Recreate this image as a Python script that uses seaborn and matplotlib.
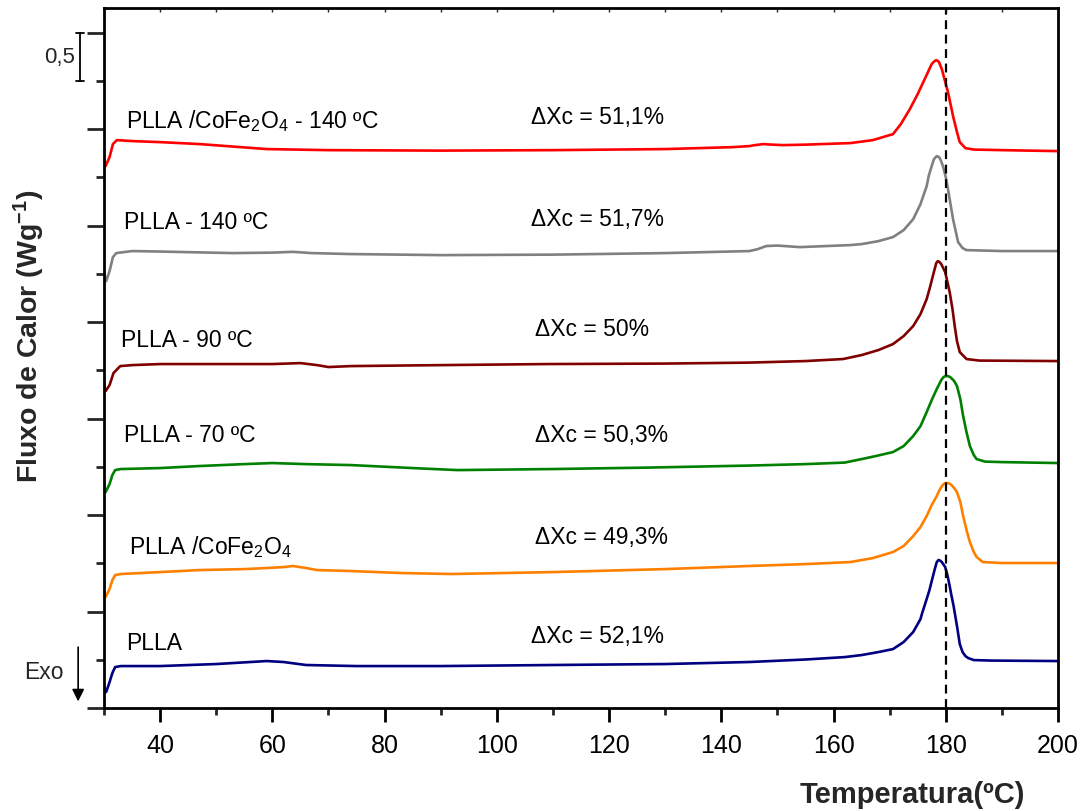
import numpy as np
import pandas as pd
import matplotlib
matplotlib.use("Agg")
import matplotlib.pyplot as plt
import seaborn as sns

# ---------------- data (heat flow, W/g offset units) ----------------
x_plla = [30, 30.4, 31, 31.5, 32, 33, 40, 50, 59, 62, 66, 75, 90, 110, 130, 145, 155, 162, 165, 168,
          170.6, 172.5, 174.2, 175.5, 175.8, 176.6, 177.1, 177.5, 178.0, 178.4, 178.7, 179.0, 179.3,
          179.9, 180.3, 180.7, 181.0, 181.4, 182, 182.5, 183, 183.5, 184, 185, 188, 200]
y_plla = [0.218, 0.166, 0.269, 0.363, 0.425, 0.435, 0.435, 0.456, 0.487, 0.477, 0.446, 0.435, 0.435,
          0.446, 0.456, 0.477, 0.503, 0.528, 0.549, 0.580, 0.611, 0.684, 0.788, 0.922, 0.984, 1.130,
          1.223, 1.316, 1.430, 1.513, 1.534, 1.528, 1.513, 1.461, 1.378, 1.264, 1.171, 1.057, 0.850,
          0.663, 0.580, 0.539, 0.518, 0.497, 0.492, 0.487]

x_plla_cofe = [30, 30.3, 31, 31.5, 32, 33, 40, 47, 55, 59, 62, 63.7, 66, 68, 74, 83, 92, 110, 130, 145,
               155, 163, 167, 170.6, 172.5, 174.2, 175.5, 176.6, 177.5, 178.4, 178.8, 179.2, 179.6, 180,
               180.4, 180.8, 181.1, 181.5, 182, 182.6, 183.1, 183.7, 184.3, 185, 185.5, 186.6, 190, 200]
y_plla_cofe = [1.202, 1.150, 1.233, 1.326, 1.378, 1.389, 1.409, 1.430, 1.440, 1.451, 1.461, 1.472, 1.451,
               1.430, 1.420, 1.399, 1.389, 1.409, 1.440, 1.472, 1.492, 1.513, 1.554, 1.617, 1.679, 1.782,
               1.876, 1.990, 2.104, 2.197, 2.249, 2.290, 2.321, 2.332, 2.332, 2.321, 2.306, 2.280, 2.238,
               2.135, 1.990, 1.845, 1.720, 1.617, 1.565, 1.513, 1.503, 1.503]

x_plla70 = [30, 30.3, 31, 31.5, 32, 33, 40, 47, 55, 60, 66, 74, 85, 93, 110, 127, 145, 155, 162, 165,
            167.5, 170.6, 172.5, 174.2, 175.5, 176.6, 177.5, 178.4, 179.2, 179.6, 180, 180.4, 180.8,
            181.5, 182, 182.6, 183.1, 183.7, 184.3, 185, 185.5, 187, 190, 200]
y_plla70 = [2.301, 2.238, 2.321, 2.415, 2.466, 2.477, 2.487, 2.508, 2.528, 2.539, 2.528, 2.518, 2.487,
            2.466, 2.477, 2.492, 2.513, 2.528, 2.544, 2.580, 2.611, 2.653, 2.715, 2.819, 2.922, 3.067,
            3.192, 3.306, 3.399, 3.430, 3.440, 3.440, 3.430, 3.389, 3.337, 3.202, 3.026, 2.860, 2.715,
            2.622, 2.580, 2.554, 2.549, 2.539]

x_plla90 = [30, 30.3, 31, 31.7, 32.9, 35, 40, 50, 60, 65, 68, 70, 74, 90, 109, 130, 145, 155, 161.7,
            165, 168, 170.6, 172.5, 174.2, 175.5, 176.6, 177.2, 177.7, 178.3, 178.6, 178.9, 179.2,
            179.9, 180.7, 181.2, 181.6, 182, 182.5, 183.7, 186, 200]
y_plla90 = [3.358, 3.285, 3.347, 3.472, 3.544, 3.554, 3.565, 3.565, 3.565, 3.575, 3.554, 3.534, 3.544,
            3.554, 3.565, 3.570, 3.580, 3.596, 3.617, 3.658, 3.710, 3.772, 3.855, 3.959, 4.083, 4.238,
            4.363, 4.477, 4.611, 4.632, 4.622, 4.601, 4.518, 4.311, 4.135, 3.959, 3.803, 3.689, 3.617,
            3.601, 3.596]

x_plla140 = [30, 30.4, 31, 31.6, 32.2, 35, 40, 53, 60, 63.7, 67, 74, 90, 110, 130, 145, 146.5, 148, 150,
             154, 163, 165, 168, 170.6, 172.5, 174.2, 175.5, 176.6, 177.0, 177.5, 177.9, 178.4, 178.8,
             179.1, 179.5, 180.0, 180.4, 181.3, 182.2, 183, 183.7, 190, 200]
y_plla140 = [4.518, 4.425, 4.528, 4.674, 4.715, 4.736, 4.731, 4.715, 4.720, 4.728, 4.715, 4.705, 4.694,
             4.699, 4.715, 4.736, 4.756, 4.788, 4.793, 4.777, 4.798, 4.808, 4.839, 4.881, 4.953, 5.067,
             5.223, 5.409, 5.523, 5.617, 5.689, 5.720, 5.710, 5.679, 5.617, 5.503, 5.378, 5.067, 4.829,
             4.767, 4.746, 4.736, 4.736]

x_cofe140 = [30, 30.3, 31, 31.6, 32.3, 35, 40, 47, 59, 70, 90, 110, 130, 142, 145, 146, 147.5, 149, 151,
             155, 163, 167, 170.6, 172, 173.6, 175, 176, 177.5, 177.9, 178.3, 178.6, 178.8, 179.3, 180.4,
             181.3, 182, 182.5, 183.5, 185, 190, 200]
y_cofe140 = [5.689, 5.617, 5.710, 5.845, 5.886, 5.876, 5.865, 5.845, 5.793, 5.782, 5.777, 5.782, 5.793,
             5.813, 5.824, 5.834, 5.845, 5.839, 5.834, 5.839, 5.855, 5.886, 5.948, 6.052, 6.207, 6.363,
             6.487, 6.674, 6.699, 6.715, 6.705, 6.694, 6.622, 6.383, 6.135, 5.969, 5.865, 5.803, 5.788,
             5.782, 5.772]

series_names = ["PLLA", "PLLA /CoFe$_2$O$_4$", "PLLA - 70 ºC", "PLLA - 90 ºC",
                "PLLA - 140 ºC", "PLLA /CoFe$_2$O$_4$ - 140 ºC"]
series_colors = ["#000080", "#FF8000", "#008000", "#800000", "#808080", "#FF0000"]
delta_xc = ["ΔXc = 52,1%", "ΔXc = 49,3%", "ΔXc = 50,3%", "ΔXc = 50%", "ΔXc = 51,7%", "ΔXc = 51,1%"]
x_ticks = [40, 60, 80, 100, 120, 140, 160, 180, 200]
tm_line = 180

# ---------------- build long table ----------------
xs = [x_plla, x_plla_cofe, x_plla70, x_plla90, x_plla140, x_cofe140]
ys = [y_plla, y_plla_cofe, y_plla70, y_plla90, y_plla140, y_cofe140]
frames = []
for name, xv, yv in zip(series_names, xs, ys):
    frames.append(pd.DataFrame({"T": xv, "Q": yv, "s": name}))
df = pd.concat(frames, ignore_index=True)

sns.set_theme(style="white")
plt.rcParams['font.family'] = ['Liberation Sans', 'DejaVu Sans']
plt.rcParams['mathtext.fontset'] = 'custom'
plt.rcParams['mathtext.rm'] = 'Liberation Sans'
plt.rcParams['mathtext.it'] = 'Liberation Sans:italic'
plt.rcParams['mathtext.bf'] = 'Liberation Sans:bold'

fig = plt.figure(figsize=(10.84, 8.12), dpi=100)
ax = fig.add_axes([0.0959, 0.1268, 0.8801, 0.8621])

sns.lineplot(data=df, x="T", y="Q", hue="s", hue_order=series_names,
             palette=dict(zip(series_names, series_colors)), sort=False,
             estimator=None, linewidth=1.9, legend=False, ax=ax)

ax.axvline(tm_line, color="black", linestyle=(0, (4, 2.5)), linewidth=1.6)

ax.set_xlim(30, 200)
ax.set_ylim(0, 7.255)

ax.set_xticks(x_ticks)
ax.set_xticks(np.arange(30, 201, 20), minor=True)
ax.set_yticks(np.arange(0, 7.5, 1.0))
ax.set_yticks(np.arange(0.5, 7.5, 1.0), minor=True)
ax.set_yticklabels([])
ax.tick_params(axis="x", which="major", direction="out", length=10, width=2, labelsize=18,
               pad=8, colors="black", bottom=True, top=False)
ax.tick_params(axis="x", which="minor", direction="out", length=5, width=2, bottom=True, top=False)
ax.tick_params(axis="y", which="major", direction="out", length=12, width=2, left=True)
ax.tick_params(axis="y", which="minor", direction="out", length=6, width=2, left=True)

# top small inward ticks every 10 degrees
sec = ax.secondary_xaxis("top")
sec.set_xticks(np.arange(40, 200, 10))
sec.set_xticklabels([])
sec.tick_params(direction="in", length=3, width=1)
sec.spines["top"].set_visible(False)

for sp in ax.spines.values():
    sp.set_visible(True)
    sp.set_color("black")
    sp.set_linewidth(2)

ax.set_xlabel("")
ax.set_ylabel("")
fig.text(0.9456, 0.004, "Temperatura(ºC)", ha="right", va="bottom", fontsize=21, fontweight="bold")
fig.text(0.027, 0.586, "Fluxo de Calor (Wg$^{\\mathbf{-1}}$)", rotation=90, ha="center",
         va="center", fontsize=20.5, fontweight="bold")

# curve labels
label_pos = [(34.0, 0.68), (34.5, 1.68), (33.5, 2.83), (33.0, 3.82), (33.5, 5.04), (34.0, 6.09)]
for (lx, ly), name in zip(label_pos, series_names):
    ax.text(lx, ly, name, fontsize=16.5, ha="left", va="center", color="black")
dxc_pos = [(106.1, 0.75), (106.8, 1.78), (106.8, 2.83), (106.8, 3.93), (106.1, 5.07), (106.1, 6.13)]
for (lx, ly), t in zip(dxc_pos, delta_xc):
    ax.text(lx, ly, t, fontsize=16.5, ha="left", va="center", color="black")

# scale bar 0,5
bar_x = 25.7
ax.plot([bar_x, bar_x], [6.5, 7.0], color="black", lw=1.3, clip_on=False)
ax.plot([bar_x - 0.7, bar_x + 0.7], [7.0, 7.0], color="black", lw=1.3, clip_on=False)
ax.plot([bar_x - 0.7, bar_x + 0.7], [6.5, 6.5], color="black", lw=1.3, clip_on=False)
ax.text(24.8, 6.75, "0,5", ha="right", va="center", fontsize=16)

# Exo arrow
ax.annotate("", xy=(25.4, 0.04), xytext=(25.4, 0.66), xycoords="data",
            arrowprops=dict(arrowstyle="-|>", color="black", lw=1.2, mutation_scale=18),
            annotation_clip=False)
ax.text(22.9, 0.383, "Exo", ha="right", va="center", fontsize=16.5)

fig.savefig("out.png", dpi=100)
